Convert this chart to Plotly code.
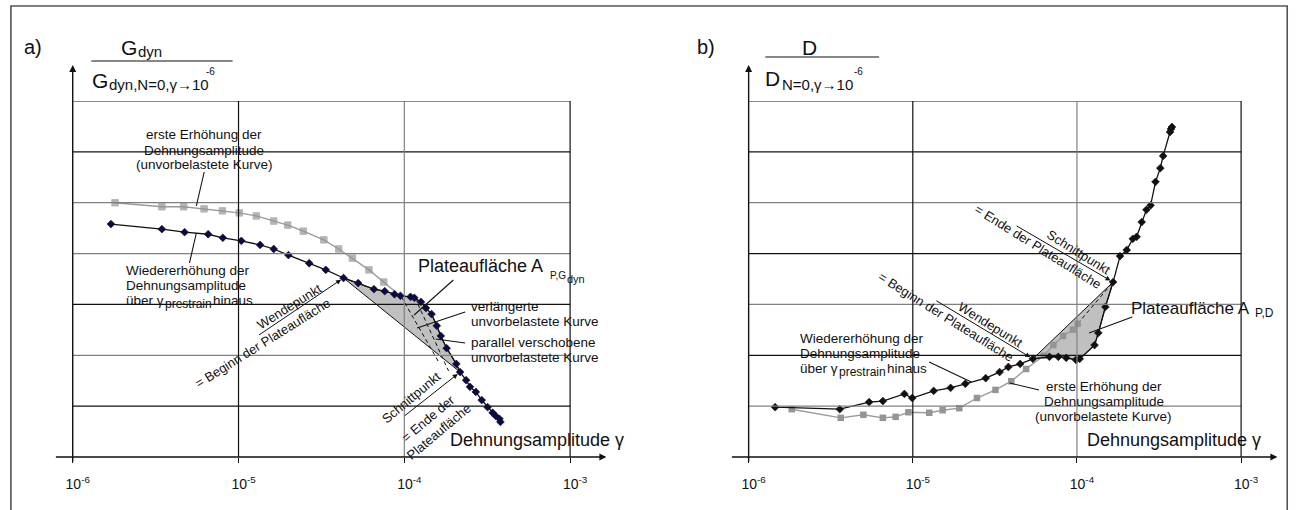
import numpy as np
import plotly.graph_objects as go

W, H = 1316, 510
FONT = "Liberation Sans"

# ---------------- panel a: normalised dynamic shear modulus ----------------
# first increase of strain amplitude (virgin curve)
gam_a_first = [1.80e-6, 3.45e-6, 4.67e-6, 6.2e-6, 8.0e-6, 1.01e-5, 1.28e-5, 1.63e-5,
               1.98e-5, 2.46e-5, 3.27e-5, 4.02e-5, 4.86e-5, 6.12e-5, 7.51e-5, 9.59e-5]
g_a_first = [5.00, 4.92, 4.92, 4.88, 4.84, 4.80, 4.74, 4.64,
             4.56, 4.44, 4.27, 4.09, 3.91, 3.68, 3.44, 3.15]
# renewed increase beyond the prestrain amplitude
gam_a_re = [1.70e-6, 3.45e-6, 4.73e-6, 6.56e-6, 8.04e-6, 1.04e-5, 1.35e-5, 1.63e-5,
            2.00e-5, 2.67e-5, 3.36e-5, 4.30e-5, 5.27e-5, 6.56e-5, 7.62e-5, 8.73e-5,
            9.47e-5, 1.09e-4, 1.15e-4, 1.26e-4, 1.35e-4, 1.46e-4, 1.57e-4, 1.66e-4,
            1.80e-4, 2.06e-4, 2.17e-4, 2.36e-4, 2.49e-4, 2.70e-4, 2.93e-4, 3.18e-4,
            3.41e-4, 3.55e-4, 3.75e-4, 3.80e-4]
g_a_re = [4.58, 4.48, 4.42, 4.38, 4.31, 4.25, 4.17, 4.09,
          3.97, 3.81, 3.68, 3.52, 3.42, 3.30, 3.26, 3.20,
          3.17, 3.15, 3.13, 3.05, 2.93, 2.81, 2.58, 2.38,
          2.14, 1.83, 1.67, 1.51, 1.38, 1.28, 1.12, 0.98,
          0.87, 0.81, 0.75, 0.69]
# extended virgin curve and parallel shifted virgin curve (dashed)
gam_a_ext = [9.59e-5, 1.61e-4]
g_a_ext = [3.15, 1.87]
gam_a_par = [1.16e-4, 1.85e-4]
g_a_par = [3.13, 1.69]
WP_A, SP_A = 11, 26          # inflection point / intersection point

# ---------------- panel b: normalised damping ratio ----------------
gam_b_first = [1.83e-6, 3.64e-6, 5.0e-6, 6.57e-6, 7.86e-6, 9.40e-6, 1.26e-5, 1.52e-5,
               1.92e-5, 2.46e-5, 3.19e-5, 3.98e-5, 4.90e-5, 6.27e-5, 7.19e-5, 8.24e-5,
               9.46e-5, 1.01e-4]
d_b_first = [0.94, 0.77, 0.83, 0.77, 0.79, 0.88, 0.87, 0.92,
             0.96, 1.16, 1.32, 1.49, 1.73, 1.99, 2.20, 2.38,
             2.50, 2.62]
gam_b_re = [1.45e-6, 3.59e-6, 5.42e-6, 6.57e-6, 8.89e-6, 9.93e-6, 1.34e-5, 1.70e-5,
            2.09e-5, 2.78e-5, 3.38e-5, 3.82e-5, 4.51e-5, 5.39e-5, 6.80e-5, 7.70e-5,
            8.60e-5, 9.86e-5, 1.04e-4, 1.28e-4, 1.35e-4, 1.49e-4, 1.66e-4, 1.83e-4,
            2.01e-4, 2.19e-4, 2.31e-4, 2.48e-4, 2.65e-4, 2.81e-4, 3.01e-4, 3.22e-4,
            3.35e-4, 3.69e-4, 3.74e-4, 3.79e-4]
d_b_re = [0.98, 0.94, 1.08, 1.10, 1.24, 1.16, 1.30, 1.36,
          1.44, 1.55, 1.67, 1.77, 1.83, 1.93, 1.97, 1.97,
          1.95, 1.91, 1.93, 2.20, 2.44, 2.95, 3.44, 3.95,
          4.07, 4.29, 4.33, 4.62, 4.86, 4.95, 5.41, 5.68,
          5.92, 6.39, 6.45, 6.49]
gam_b_ext = [1.01e-4, 1.66e-4]
d_b_ext = [2.62, 3.44]
WP_B, SP_B = 13, 22

tick_vals = [1e-6, 1e-5, 1e-4, 1e-3]
tick_text = ["10<sup>-6</sup>", "10<sup>-5</sup>", "10<sup>-4</sup>", "10<sup>-3</sup>"]
grid_levels = [1, 2, 3, 4, 5, 6, 7]

LOG_MIN, LOG_MAX = -6, -3
Y_MAX = 7
BLACK, GREY = "#111111", "#808080"
NAVY = "#0a0a4a"
LABEL = 13.5


def px(x):
    return x / W


def py(y):
    return 1 - y / H


fig = go.Figure()


def add_panel(xa, ya, gx_first, gy_first, gx_re, gy_re, wp, sp, dashed, re_fill, first_sizes):
    # plateau area between inflection point and intersection point
    xs = list(gx_re[wp:sp + 1]) + [gx_re[wp]]
    ys = list(gy_re[wp:sp + 1]) + [gy_re[wp]]
    fig.add_trace(go.Scatter(x=xs, y=ys, xaxis=xa, yaxis=ya, mode="lines", fill="toself",
                             fillcolor="#c0c0c0", line=dict(color=BLACK, width=1),
                             hoverinfo="skip", showlegend=False))
    for dx, dy in dashed:
        fig.add_trace(go.Scatter(x=dx, y=dy, xaxis=xa, yaxis=ya, mode="lines",
                                 line=dict(color=BLACK, width=1, dash="4px,3px"),
                                 showlegend=False))
    fig.add_trace(go.Scatter(x=gx_first, y=gy_first, xaxis=xa, yaxis=ya, mode="lines+markers",
                             line=dict(color="#9a9a9a", width=1.4),
                             marker=dict(symbol="square", size=first_sizes, color="#959595"),
                             showlegend=False))
    fig.add_trace(go.Scatter(x=gx_re, y=gy_re, xaxis=xa, yaxis=ya, mode="lines+markers",
                             line=dict(color=BLACK, width=1.3),
                             marker=dict(symbol="diamond", size=6, color=re_fill,
                                         line=dict(color=BLACK, width=0.6)),
                             showlegend=False))


sizes_a = [6.5] * (len(gam_a_first) - 1) + [0]
add_panel("x", "y", gam_a_first, g_a_first, gam_a_re, g_a_re, WP_A, SP_A,
          [(gam_a_ext, g_a_ext), (gam_a_par, g_a_par)], NAVY, sizes_a)
add_panel("x2", "y2", gam_b_first, d_b_first, gam_b_re, d_b_re, WP_B, SP_B,
          [(gam_b_ext, d_b_ext)], BLACK, 6.5)

ydom = [py(457), py(101)]
axis_x = dict(type="log", range=[LOG_MIN, LOG_MAX], showgrid=False, zeroline=False,
              showline=False, ticks="outside", ticklen=5, tickwidth=1, tickcolor=BLACK,
              tickvals=tick_vals, ticktext=tick_text, ticklabelshift=5, ticklabelstandoff=9,
              tickfont=dict(family=FONT, size=14, color=BLACK))
axis_y = dict(range=[0, Y_MAX], domain=ydom, showgrid=False, zeroline=False,
              showticklabels=False, showline=False, ticks="")

shapes = []
annotations = []

# grid lines, alternating tone as in a scanned print
hcol = {"": [BLACK, GREY, BLACK, GREY, GREY, BLACK, BLACK],
        "2": [GREY, BLACK, GREY, BLACK, GREY, BLACK, BLACK]}
vcol = {"": [BLACK, GREY, BLACK], "2": [BLACK, GREY, BLACK]}
for s in ["", "2"]:
    for lvl, c in zip(grid_levels, hcol[s]):
        shapes.append(dict(type="line", xref=f"x{s} domain", yref=f"y{s}", x0=0, x1=1,
                           y0=lvl, y1=lvl, line=dict(color=c, width=1.2)))
    for v, c in zip(tick_vals[1:], vcol[s]):
        f = (np.log10(v) - LOG_MIN) / (LOG_MAX - LOG_MIN)
        shapes.append(dict(type="line", xref=f"x{s} domain", yref=f"y{s} domain", x0=f, x1=f,
                           y0=0, y1=1, line=dict(color=c, width=1.2)))
    # axes drawn as arrows
    plot_w = 507 if s == "" else 502
    annotations.append(dict(xref=f"x{s} domain", yref=f"y{s} domain", x=1 + 37 / plot_w, y=0,
                            ax=-(37 + plot_w + 8), ay=0, text="", showarrow=True,
                            arrowhead=2, arrowsize=1, arrowwidth=1.4, arrowcolor=BLACK))
    annotations.append(dict(xref=f"x{s} domain", yref=f"y{s} domain", x=0, y=1 + 36 / 356,
                            ax=0, ay=36 + 356 + 6, text="", showarrow=True,
                            arrowhead=2, arrowsize=1, arrowwidth=1.4, arrowcolor=BLACK))

# outer frame
shapes.append(dict(type="rect", xref="paper", yref="paper", x0=px(4), x1=px(1305),
                   y0=-0.1, y1=py(6), line=dict(color="#555555", width=1.6)))

# fraction bars of the axis titles
shapes.append(dict(type="line", xref="paper", yref="paper", x0=px(86), x1=px(230),
                   y0=py(61), y1=py(61), line=dict(color=BLACK, width=1.2)))
shapes.append(dict(type="line", xref="paper", yref="paper", x0=px(773), x1=px(889),
                   y0=py(57), y1=py(57), line=dict(color=BLACK, width=1.2)))

# leader lines of the labels
leaders = [((201, 172), (193, 206)), ((186, 263), (193, 233)), ((455, 280), (415, 315)),
           ((467, 312), (418, 328)), ((467, 343), (437, 339)),
           ((1147, 317), (1103, 333)), ((940, 362), (983, 382)), ((1052, 390), (1022, 383))]
for (x0, y0), (x1, y1) in leaders:
    shapes.append(dict(type="line", xref="paper", yref="paper", x0=px(x0), y0=py(y0),
                       x1=px(x1), y1=py(y1), line=dict(color=BLACK, width=1.1)))


def txt(x, y, s, size=LABEL, xanchor="left", angle=0, align="center"):
    annotations.append(dict(xref="paper", yref="paper", x=px(x), y=py(y), text=s,
                            showarrow=False, xanchor=xanchor, yanchor="middle", align=align,
                            textangle=angle, font=dict(family=FONT, size=size, color=BLACK)))


def block(x, y, lines, xanchor="left", step=15):
    y0 = y - step * (len(lines) - 1) / 2
    for k, s in enumerate(lines):
        txt(x, y0 + k * step, s, LABEL, xanchor)


def prestrain_line(x, y):
    txt(x, y, "über γ", LABEL)
    txt(x + 40, y + 4, "prestrain", 12)
    txt(x + 89, y, "hinaus", LABEL)


# panel labels
txt(26, 47, "a)", 20, "center")
txt(713, 47, "b)", 20, "center")

# axis title of panel a: G_dyn / G_dyn,N=0,γ→10^-6
txt(114, 47, "G", 21)
txt(132, 52, "dyn", 15)
txt(85, 80, "G", 21)
txt(102, 85, "dyn,N=0,γ→10", 15)
txt(201, 72, "-6", 10)
# axis title of panel b: D / D_N=0,γ→10^-6
txt(808, 47, "D", 21)
txt(771, 78, "D", 21)
txt(788, 85, "N=0,γ→10", 15)
txt(861, 72, "-6", 10)

txt(450, 440, "Dehnungsamplitude γ", 18)
txt(1099, 440, "Dehnungsamplitude γ", 18)

# panel a labels
block(201, 150, ["erste Erhöhung der", "Dehnungsamplitude", "(unvorbelastete Kurve)"], "center")
block(119, 277.5, ["Wiedererhöhung der", "Dehnungsamplitude"])
prestrain_line(119, 300)
txt(417, 266, "Plateaufläche A", 18)
txt(551, 275, "P,G", 10)
txt(569, 279, "dyn", 11)
block(471, 314, ["verlängerte", "unvorbelastete Kurve"])
block(471, 349.5, ["parallel verschobene", "unvorbelastete Kurve"])
txt(256, 336, "Wendepunkt<br>= Beginn der Plateaufläche", 13, "center", -32, "right")
txt(412, 397, "Schnittpunkt", 13, "center", -40)
txt(435, 425, "= Ende der<br>Plateaufläche", 13, "center", -40)

# panel b labels
block(806, 345.5, ["Wiedererhöhung der", "Dehnungsamplitude"])
prestrain_line(806, 368)
block(1118, 401, ["erste Erhöhung der", "Dehnungsamplitude", "(unvorbelastete Kurve)"], "center")
txt(1144, 308, "Plateaufläche A", 17)
txt(1270, 313, "P,D", 12)
txt(962, 310, "Wendepunkt<br>= Beginn der Plateaufläche", 13, "center", 32, "right")
txt(1056, 240, "Schnittpunkt<br>= Ende der Plateaufläche", 13, "center", 32, "right")


def point_arrow(xa, ya, gx, gy, i, ax, ay):
    annotations.append(dict(xref=xa, yref=ya, x=float(np.log10(gx[i])), y=gy[i], ax=ax, ay=ay,
                            text="", showarrow=True, arrowhead=2, arrowsize=1, arrowwidth=1,
                            arrowcolor=BLACK, standoff=3))


point_arrow("x", "y", gam_a_re, g_a_re, WP_A, -86, 58)
point_arrow("x", "y", gam_a_re, g_a_re, SP_A, -57, 45)
point_arrow("x2", "y2", gam_b_re, d_b_re, WP_B, -98, -59)
point_arrow("x2", "y2", gam_b_re, d_b_re, SP_B, -98, -57)

fig.update_layout(
    width=W, height=H, margin=dict(l=0, r=0, t=0, b=0),
    paper_bgcolor="white", plot_bgcolor="white",
    xaxis=dict(axis_x, domain=[px(67), px(574)], anchor="y"),
    yaxis=dict(axis_y, anchor="x"),
    xaxis2=dict(axis_x, domain=[px(756), px(1258)], anchor="y2"),
    yaxis2=dict(axis_y, anchor="x2"),
    shapes=shapes, annotations=annotations, showlegend=False,
    font=dict(family=FONT, color=BLACK),
)

fig.write_html("out.html")
